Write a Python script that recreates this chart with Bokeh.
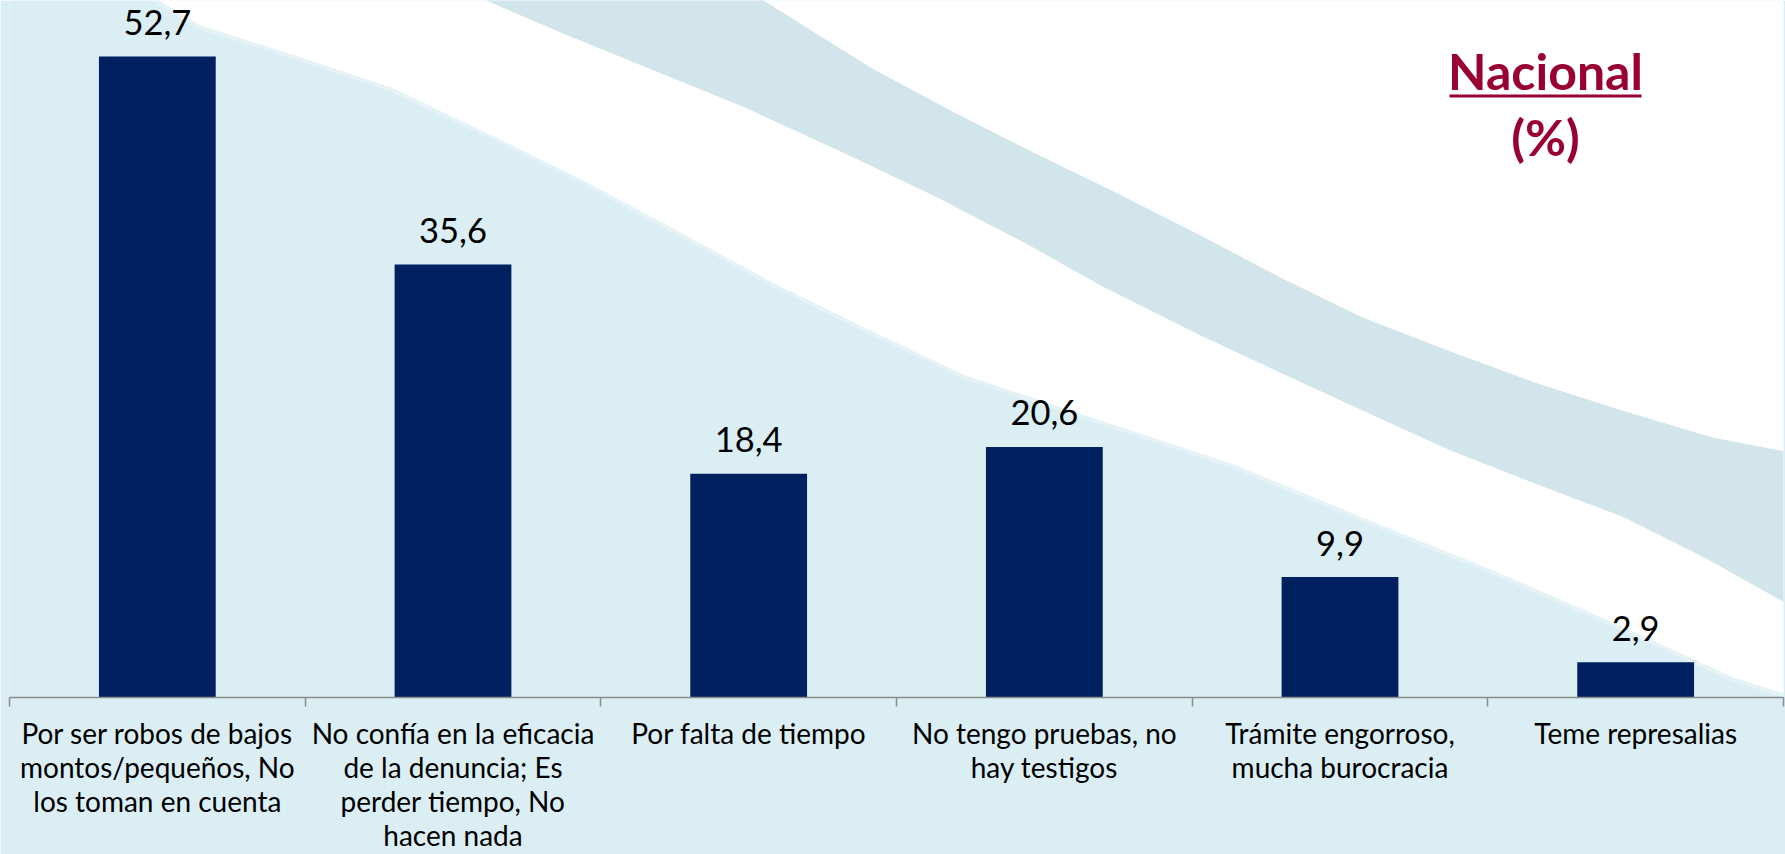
from bokeh.plotting import figure
from bokeh.models import Range1d, LinearAxis, FixedTicker, ColumnDataSource
from bokeh.core.properties import value
from bokeh.embed import file_html
from bokeh.resources import INLINE

# ---- data ----
categories = [
    "Por ser robos de bajos\nmontos/pequeños, No\nlos toman en cuenta",
    "No confía en la eficacia\nde la denuncia; Es\nperder tiempo, No\nhacen nada",
    "Por falta de tiempo",
    "No tengo pruebas, no\nhay testigos",
    "Trámite engorroso,\nmucha burocracia",
    "Teme represalias",
]
values = [52.7, 35.6, 18.4, 20.6, 9.9, 2.9]
title_main = "Nacional"
title_sub = "(%)"

BG = "#DAEEF4"
BAND = "#D2E5EA"
BAR = "#002060"
RED = "#990033"
FONT = "Lato"

W, H = 1785, 854
FL, FR, FB = 9, 1783, 697          # frame left / right / bottom in page pixels
PX_PER_UNIT = 12.163

xs = list(range(len(categories)))
labels = [f"{v:.1f}".replace(".", ",") for v in values]
src = ColumnDataSource(dict(x=xs, top=values, label=labels))

p = figure(width=W, height=H, output_backend="svg", toolbar_location=None,
           x_range=Range1d(-0.5, len(categories) - 0.5), y_range=Range1d(0, FB / PX_PER_UNIT),
           x_axis_location=None, y_axis_location=None,
           min_border_left=FL, min_border_right=W - FR, min_border_top=0, min_border_bottom=H - FB)
p.background_fill_color = BG
p.border_fill_color = BG
p.outline_line_color = None
p.xgrid.visible = False
p.ygrid.visible = False

# pixel-space range for decoration (page pixels, y downwards)
p.extra_x_ranges["px"] = Range1d(FL, FR)
p.extra_y_ranges["px"] = Range1d(FB, 0)

# decorative background: white swoosh and grey-blue band
edge_x = [1790, 1733, 1624, 1493, 1362, 1231, 1100, 965, 870, 774, 680, 583, 487, 391, 295, 200, 150]
edge_y = [695, 677, 627, 570, 517, 463, 420, 375, 330, 283, 232, 180, 133, 87, 55, 25, -5]
p.patch([1790] + edge_x, [-5] + edge_y, x_range_name="px", y_range_name="px",
        fill_color="white", line_color=None)
p.multi_line([edge_x], [edge_y], x_range_name="px", y_range_name="px",
             line_color="white", line_alpha=0.3, line_width=8)
bx = [755, 870, 950, 1029, 1115, 1200, 1280, 1362, 1450, 1537, 1625, 1712, 1790,
      1790, 1700, 1624, 1537, 1450, 1362, 1275, 1200, 1100, 1029, 935, 838, 742, 646, 560, 474]
by = [-5, 67, 110, 150, 192, 235, 277, 317, 351, 383, 411, 437, 452,
      605, 555, 517, 484, 450, 410, 370, 335, 285, 245, 196, 150, 106, 67, 32, -5]
p.patch(bx, by, x_range_name="px", y_range_name="px", fill_color=BAND, line_color=None)

# bars
p.vbar(x="x", top="top", width=0.395, bottom=0, source=src, fill_color=BAR, line_color=None)

# value labels
p.text(x="x", y="top", text="label", source=src, text_align="center", text_baseline="alphabetic",
       y_offset=-34, text_font=value(FONT), text_font_size="34.5px", text_color="#000000")

# category axis: labels at the centres, ticks at the category boundaries
bounds = [i - 0.5 for i in range(len(categories) + 1)]
ax = LinearAxis(ticker=FixedTicker(ticks=xs, minor_ticks=bounds))
ax.major_label_overrides = {i: c for i, c in zip(xs, categories)}
ax.axis_line_color = "#8C8C8C"
ax.axis_line_width = 1.5
ax.major_tick_out = 0
ax.major_tick_in = 0
ax.minor_tick_out = 9
ax.minor_tick_in = 0
ax.minor_tick_line_color = "#8C8C8C"
ax.minor_tick_line_width = 1.5
ax.major_label_standoff = 9
ax.major_label_text_font = FONT
ax.major_label_text_font_size = "28px"
ax.major_label_text_color = "#000000"
ax.major_label_text_line_height = 1.0
p.add_layout(ax, "below")

# title "Nacional (%)"
TX = 1545
p.text(x=[TX], y=[70], text=[title_main], x_range_name="px", y_range_name="px",
       text_align="center", text_baseline="alphabetic", text_font=value(FONT),
       text_font_size="50px", text_font_style="bold", text_color=RED)
p.segment(x0=[1449], y0=[95.5], x1=[1641], y1=[95.5], x_range_name="px", y_range_name="px",
          line_color=RED, line_width=3)
p.text(x=[TX], y=[136], text=[title_sub], x_range_name="px", y_range_name="px",
       text_align="center", text_baseline="alphabetic", text_font=value(FONT),
       text_font_size="50px", text_font_style="bold", text_color=RED)

open("out.html", "w").write(file_html(p, INLINE))
